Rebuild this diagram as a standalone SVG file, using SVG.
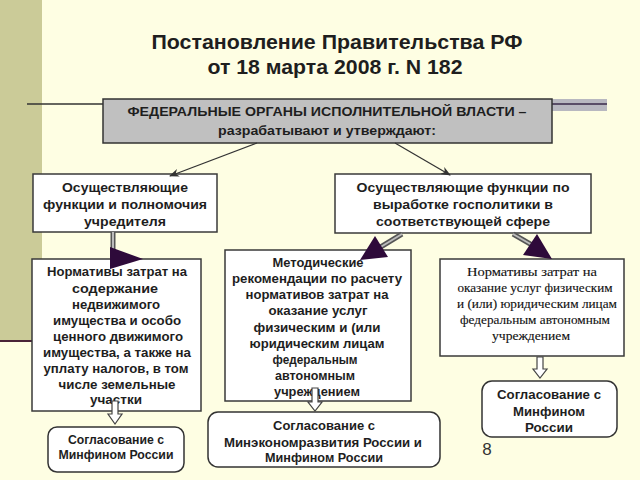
<svg xmlns="http://www.w3.org/2000/svg" width="640" height="480" viewBox="0 0 640 480">
<defs>
<style>
.bg{fill:#FEFEE3}
.box{fill:#FFFFFF;stroke:#3a3a3a;stroke-width:1.5}
.gray{fill:#C0C0C0;stroke:#333;stroke-width:1.5}
.rbox{fill:#FFFFFF;stroke:#333;stroke-width:1.5}
.t{font-family:"Liberation Sans",Arial,sans-serif;font-weight:bold;fill:#1e1e1e;text-anchor:middle}
.s{font-family:"Liberation Serif","Times New Roman",serif;fill:#111;text-anchor:middle;font-size:12.5px;stroke:#111;stroke-width:0.12}
.thin{stroke:#333;stroke-width:1.3;fill:none}
.hollow{fill:#FFFFFF;stroke:#444;stroke-width:1.2}
.head{fill:#2E0A3A}
.sh1{stroke:#555;stroke-width:5}
.sh2{stroke:#BBB;stroke-width:2}
</style>
<marker id="ah" markerWidth="10" markerHeight="8" refX="9" refY="4" orient="auto" markerUnits="userSpaceOnUse">
<path d="M0,0 L10,4 L0,8 L3,4 Z" fill="#333"/>
</marker>
</defs>
<rect class="bg" x="0" y="0" width="640" height="480"/>
<rect x="0" y="0" width="42" height="340" fill="#CBCB98"/>
<line x1="0" y1="341" x2="42" y2="341" stroke="#4a2438" stroke-width="2"/>
<line x1="27" y1="104" x2="103" y2="104" stroke="#333" stroke-width="1.3"/>
<rect x="552" y="99" width="55" height="12" fill="#B8B8C0"/>
<line x1="552" y1="104" x2="607" y2="104" stroke="#3a2a4a" stroke-width="1.5"/>

<g id="title">
<text class="t" x="337" y="49" font-size="20" textLength="371" lengthAdjust="spacingAndGlyphs">Постановление Правительства РФ</text>
<text class="t" x="335" y="74" font-size="20" textLength="255" lengthAdjust="spacingAndGlyphs">от 18 марта 2008 г. N 182</text>
</g>

<g id="top">
<rect class="gray" x="103" y="99" width="449" height="44"/>
<text class="t" x="327" y="115.5" font-size="12.5" textLength="399" lengthAdjust="spacingAndGlyphs">ФЕДЕРАЛЬНЫЕ ОРГАНЫ ИСПОЛНИТЕЛЬНОЙ ВЛАСТИ –</text>
<text class="t" x="327" y="134.5" font-size="12.5" textLength="218" lengthAdjust="spacingAndGlyphs">разрабатывают и утверждают:</text>
</g>

<g id="boxA">
<rect class="box" x="33" y="174" width="184" height="58"/>
<text class="t" font-size="13.5" x="125" y="191.5" textLength="126" lengthAdjust="spacingAndGlyphs">Осуществляющие</text>
<text class="t" font-size="13.5" x="125" y="208.5" textLength="164" lengthAdjust="spacingAndGlyphs">функции и полномочия</text>
<text class="t" font-size="13.5" x="125" y="225.5" textLength="82" lengthAdjust="spacingAndGlyphs">учредителя</text>
</g>

<g id="boxB">
<rect class="box" x="335" y="174" width="256" height="59"/>
<text class="t" font-size="13.5" x="463" y="191.5" textLength="213" lengthAdjust="spacingAndGlyphs">Осуществляющие функции по</text>
<text class="t" font-size="13.5" x="463" y="208.5" textLength="180" lengthAdjust="spacingAndGlyphs">выработке госполитики в</text>
<text class="t" font-size="13.5" x="463" y="225.5" textLength="174" lengthAdjust="spacingAndGlyphs">соответствующей сфере</text>
</g>

<g id="boxC">
<rect class="box" x="32" y="259" width="169" height="152"/>
<g font-size="12.5">
<text class="t" x="117" y="275.5" textLength="140" lengthAdjust="spacingAndGlyphs">Нормативы затрат на</text>
<text class="t" x="115" y="292.5" textLength="86" lengthAdjust="spacingAndGlyphs">содержание</text>
<text class="t" x="116" y="308.5" textLength="88" lengthAdjust="spacingAndGlyphs">недвижимого</text>
<text class="t" x="117" y="324.5" textLength="128" lengthAdjust="spacingAndGlyphs">имущества и особо</text>
<text class="t" x="118" y="340.5" textLength="130" lengthAdjust="spacingAndGlyphs">ценного движимого</text>
<text class="t" x="117" y="356.5" textLength="148" lengthAdjust="spacingAndGlyphs">имущества, а также на</text>
<text class="t" x="116" y="372.5" textLength="145" lengthAdjust="spacingAndGlyphs">уплату налогов, в том</text>
<text class="t" x="117" y="388.5" textLength="117" lengthAdjust="spacingAndGlyphs">числе земельные</text>
<text class="t" x="116" y="403.5" textLength="52" lengthAdjust="spacingAndGlyphs">участки</text>
</g>
</g>

<g id="boxD">
<rect class="box" x="225" y="250" width="186" height="151"/>
<g font-size="12.5">
<text class="t" x="318" y="266.5" textLength="91" lengthAdjust="spacingAndGlyphs">Методические</text>
<text class="t" x="317" y="282.5" textLength="170" lengthAdjust="spacingAndGlyphs">рекомендации по расчету</text>
<text class="t" x="317" y="298.5" textLength="143" lengthAdjust="spacingAndGlyphs">нормативов затрат на</text>
<text class="t" x="318" y="314.5" textLength="99" lengthAdjust="spacingAndGlyphs">оказание услуг</text>
<text class="t" x="317" y="331.5" textLength="127" lengthAdjust="spacingAndGlyphs">физическим и (или</text>
<text class="t" x="317" y="347.5" textLength="135" lengthAdjust="spacingAndGlyphs">юридическим лицам</text>
<text class="t" x="315" y="363.5" textLength="85" lengthAdjust="spacingAndGlyphs">федеральным</text>
<text class="t" x="315" y="379.5" textLength="80" lengthAdjust="spacingAndGlyphs">автономным</text>
<text class="t" x="317" y="395.5" textLength="86" lengthAdjust="spacingAndGlyphs">учреждением</text>
</g>
</g>

<g id="boxE">
<rect class="box" x="440" y="259" width="184" height="97"/>
<text class="s" x="532" y="276" textLength="130" lengthAdjust="spacingAndGlyphs">Нормативы затрат на</text>
<text class="s" x="535" y="292" textLength="155" lengthAdjust="spacingAndGlyphs">оказание услуг физическим</text>
<text class="s" x="537" y="308" textLength="160" lengthAdjust="spacingAndGlyphs">и (или) юридическим лицам</text>
<text class="s" x="535" y="324" textLength="150" lengthAdjust="spacingAndGlyphs">федеральным автономным</text>
<text class="s" x="531" y="340" textLength="78" lengthAdjust="spacingAndGlyphs">учреждением</text>
</g>

<g id="boxF">
<rect class="rbox" x="48" y="427" width="136" height="45" rx="9"/>
<text class="t" font-size="12.5" x="116" y="443.5" textLength="96" lengthAdjust="spacingAndGlyphs">Согласование с</text>
<text class="t" font-size="12.5" x="116" y="458.5" textLength="115" lengthAdjust="spacingAndGlyphs">Минфином России</text>
</g>

<g id="boxG">
<rect class="rbox" x="208" y="412" width="232" height="55" rx="10"/>
<text class="t" font-size="12.5" x="324" y="429.5" textLength="102" lengthAdjust="spacingAndGlyphs">Согласование с</text>
<text class="t" font-size="12.5" x="323" y="446.5" textLength="198" lengthAdjust="spacingAndGlyphs">Минэкономразвития России и</text>
<text class="t" font-size="12.5" x="324" y="461.5" textLength="118" lengthAdjust="spacingAndGlyphs">Минфином России</text>
</g>

<g id="boxH">
<rect class="rbox" x="482" y="381" width="135" height="56" rx="10"/>
<text class="t" font-size="12.5" x="549" y="398.5" textLength="104" lengthAdjust="spacingAndGlyphs">Согласование с</text>
<text class="t" font-size="12.5" x="549" y="415.5" textLength="72" lengthAdjust="spacingAndGlyphs">Минфином</text>
<text class="t" font-size="12.5" x="549" y="431.5" textLength="48" lengthAdjust="spacingAndGlyphs">России</text>
</g>

<text id="page" x="487" y="455" font-family="Liberation Sans,Arial,sans-serif" font-size="17" fill="#333" text-anchor="middle">8</text>

<g id="connectors">
<line class="thin" x1="257" y1="143" x2="170" y2="176" marker-end="url(#ah)"/>
<line class="thin" x1="395" y1="143" x2="450" y2="175" marker-end="url(#ah)"/>

<line class="sh1" x1="113" y1="232" x2="113" y2="250"/>
<line class="sh2" x1="113" y1="232" x2="113" y2="250"/>
<polygon class="head" points="110,247 143,259 110,269"/>

<line class="sh1" x1="402" y1="234" x2="379" y2="248"/>
<line class="sh2" x1="402" y1="234" x2="379" y2="248"/>
<polygon class="head" points="360,260 375,236 388,257"/>

<line class="sh1" x1="513" y1="234" x2="532" y2="245"/>
<line class="sh2" x1="513" y1="234" x2="532" y2="245"/>
<polygon class="head" points="552,259 523,255 537,234"/>

<path class="hollow" d="M112,401 L118,401 L118,414 L122,414 L115,424 L108,414 L112,414 Z"/>
<path class="hollow" d="M312,388 L318,388 L318,402 L322,402 L315,411 L308,402 L312,402 Z"/>
<path class="hollow" d="M537,357 L543,357 L543,369 L547,369 L540,378 L533,369 L537,369 Z"/>
</g>
</svg>
